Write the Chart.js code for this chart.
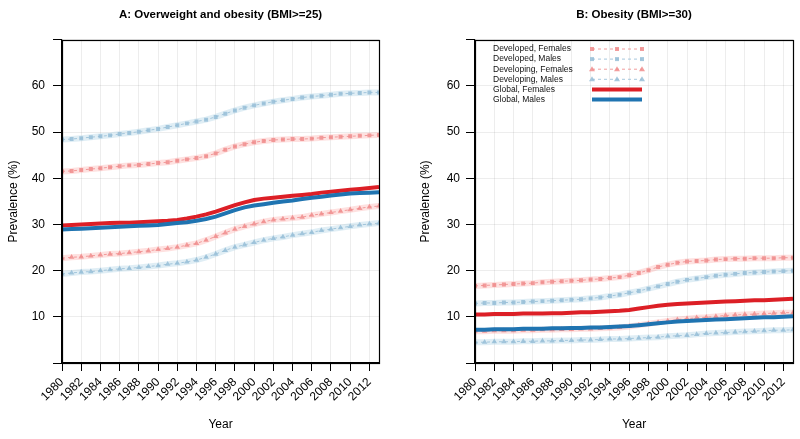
<!DOCTYPE html>
<html>
<head>
<meta charset="utf-8">
<script src="https://cdn.jsdelivr.net/npm/chart.js@4"></script>
<style>
  html, body { margin: 0; padding: 0; background: #fff; }
  #wrap { position: relative; width: 800px; height: 439px; }
  canvas { position: absolute; top: 0; }
  #chartA { left: 0; }
  #chartB { left: 400px; }
</style>
</head>
<body>
<div id="wrap">
  <canvas id="chartA" width="400" height="439"></canvas>
  <canvas id="chartB" width="400" height="439"></canvas>
</div>
<script>
const years = [
  1980, 1981, 1982, 1983, 1984, 1985, 1986, 1987, 1988, 1989,
  1990, 1991, 1992, 1993, 1994, 1995, 1996, 1997, 1998, 1999,
  2000, 2001, 2002, 2003, 2004, 2005, 2006, 2007, 2008, 2009,
  2010, 2011, 2012, 2013
];

// Panel A: overweight and obesity (BMI>=25), %
const overweightDevelopedFemales = [
  41.5, 41.6, 41.8, 42.0, 42.2, 42.4, 42.6, 42.8, 42.9, 43.1,
  43.3, 43.5, 43.8, 44.1, 44.4, 44.8, 45.4, 46.2, 46.9, 47.4,
  47.8, 48.1, 48.3, 48.4, 48.5, 48.5, 48.6, 48.8, 48.9, 49.0,
  49.1, 49.2, 49.3, 49.4
];
const overweightDevelopedMales = [
  48.4, 48.5, 48.7, 48.9, 49.1, 49.3, 49.6, 49.8, 50.1, 50.4,
  50.7, 51.1, 51.5, 51.9, 52.3, 52.7, 53.3, 54.0, 54.7, 55.3,
  55.8, 56.2, 56.6, 56.9, 57.2, 57.5, 57.7, 57.9, 58.1, 58.3,
  58.4, 58.5, 58.6, 58.6
];
const overweightDevelopingFemales = [
  22.7, 22.9, 23.0, 23.2, 23.4, 23.6, 23.7, 23.9, 24.1, 24.3,
  24.6, 24.8, 25.1, 25.5, 25.9, 26.6, 27.4, 28.2, 29.0, 29.6,
  30.1, 30.6, 31.0, 31.2, 31.4, 31.6, 32.0, 32.3, 32.6, 32.9,
  33.2, 33.5, 33.8, 34.0
];
const overweightDevelopingMales = [
  19.3, 19.5, 19.7, 19.8, 20.0, 20.2, 20.4, 20.5, 20.7, 20.9,
  21.1, 21.4, 21.6, 21.9, 22.3, 22.9, 23.6, 24.4, 25.1, 25.6,
  26.1, 26.6, 27.0, 27.3, 27.7, 28.0, 28.3, 28.7, 29.0, 29.3,
  29.6, 29.9, 30.1, 30.3
];
const overweightGlobalFemales = [
  29.8, 29.9, 30.0, 30.1, 30.2, 30.3, 30.4, 30.4, 30.5, 30.6,
  30.7, 30.8, 31.0, 31.3, 31.7, 32.2, 32.8, 33.5, 34.2, 34.8,
  35.3, 35.6, 35.8, 36.0, 36.2, 36.4, 36.6, 36.9, 37.1, 37.3,
  37.5, 37.7, 37.9, 38.1
];
const overweightGlobalMales = [
  28.9, 29.0, 29.1, 29.2, 29.3, 29.4, 29.5, 29.6, 29.7, 29.8,
  29.9, 30.1, 30.3, 30.5, 30.8, 31.2, 31.7, 32.4, 33.1, 33.7,
  34.1, 34.4, 34.7, 35.0, 35.2, 35.5, 35.8, 36.0, 36.3, 36.5,
  36.7, 36.8, 36.9, 37.0
];

// Panel B: obesity (BMI>=30), %
const obesityDevelopedFemales = [
  16.7, 16.8, 16.9, 17.0, 17.1, 17.2, 17.3, 17.5, 17.6, 17.7,
  17.8, 17.9, 18.1, 18.2, 18.4, 18.6, 19.0, 19.5, 20.1, 20.8,
  21.3, 21.7, 22.0, 22.1, 22.2, 22.4, 22.5, 22.6, 22.6, 22.7,
  22.7, 22.7, 22.8, 22.8
];
const obesityDevelopedMales = [
  12.9, 13.0, 13.0, 13.1, 13.1, 13.2, 13.3, 13.4, 13.5, 13.6,
  13.7, 13.8, 14.0, 14.2, 14.5, 14.8, 15.2, 15.6, 16.1, 16.6,
  17.1, 17.6, 18.0, 18.3, 18.6, 18.9, 19.1, 19.3, 19.5, 19.6,
  19.7, 19.8, 19.9, 20.0
];
const obesityDevelopingFemales = [
  6.9, 6.9, 7.0, 7.0, 7.0, 7.1, 7.1, 7.2, 7.2, 7.3,
  7.3, 7.4, 7.4, 7.5, 7.6, 7.7, 7.9, 8.2, 8.5, 8.8,
  9.1, 9.4, 9.6, 9.8, 9.9, 10.1, 10.3, 10.4, 10.5, 10.6,
  10.7, 10.8, 10.9, 10.9
];
const obesityDevelopingMales = [
  4.5, 4.5, 4.6, 4.6, 4.6, 4.7, 4.7, 4.8, 4.8, 4.9,
  4.9, 5.0, 5.0, 5.1, 5.2, 5.2, 5.3, 5.4, 5.5, 5.6,
  5.8, 5.9, 6.0, 6.2, 6.4, 6.5, 6.6, 6.7, 6.8, 6.9,
  7.0, 7.1, 7.1, 7.2
];
const obesityGlobalFemales = [
  10.5, 10.5, 10.6, 10.6, 10.6, 10.7, 10.7, 10.7, 10.8, 10.8,
  10.9, 11.0, 11.0, 11.1, 11.2, 11.3, 11.5, 11.8, 12.1, 12.4,
  12.6, 12.8, 12.9, 13.0, 13.1, 13.2, 13.3, 13.4, 13.5, 13.6,
  13.6, 13.7, 13.8, 13.9
];
const obesityGlobalMales = [
  7.2, 7.2, 7.3, 7.3, 7.3, 7.4, 7.4, 7.4, 7.5, 7.5,
  7.6, 7.6, 7.7, 7.7, 7.8, 7.9, 8.0, 8.2, 8.4, 8.6,
  8.8, 9.0, 9.1, 9.2, 9.3, 9.4, 9.5, 9.6, 9.7, 9.8,
  9.9, 9.9, 10.0, 10.1
];

const yTicks = [0, 10, 20, 30, 40, 50, 60, 70];

// colours
const RED = '#dc1f26';
const BLUE = '#1f74b1';
const RED_MARK = 'rgba(240, 140, 140, 0.85)';
const BLUE_MARK = 'rgba(150, 190, 215, 0.85)';
const RED_BAND = 'rgba(251, 154, 153, 0.3)';
const BLUE_BAND = 'rgba(166, 206, 227, 0.35)';

Chart.defaults.font.family = '"Liberation Sans", Arial, sans-serif';
Chart.defaults.font.size = 12;
Chart.defaults.color = '#000';

function toPoints(vals) {
  return years.map((yr, i) => ({ x: yr, y: vals[i] }));
}

function globalSeries(label, vals, color) {
  return [{
    label, data: toPoints(vals),
    borderColor: color, borderWidth: 4, pointRadius: 0, tension: 0
  }];
}

function lightSeries(label, vals, band, mark, shape) {
  const pts = toPoints(vals);
  return [
    {
      label, data: pts,
      borderColor: mark, borderWidth: 1, borderDash: [3, 3],
      pointStyle: shape, pointRadius: shape === 'triangle' ? 3.2 : 2.8,
      pointBackgroundColor: mark, pointBorderWidth: 0, pointHoverRadius: 0
    },
    {
      label: label + ' (band)', data: pts,
      borderColor: band, borderWidth: 6, pointRadius: 0
    }
  ];
}

// box round the plot area
const frame = {
  id: 'frame',
  afterDraw(chart) {
    const { ctx, chartArea: a } = chart;
    ctx.save();
    ctx.strokeStyle = '#000';
    ctx.lineWidth = 1.2;
    ctx.strokeRect(Math.round(a.left) + 0.5, Math.round(a.top) + 0.5,
      Math.round(a.right - a.left), Math.round(a.bottom - a.top));
    ctx.restore();
  }
};

const legendRows = [
  { text: 'Developed, Females', color: RED_MARK, shape: 'rect' },
  { text: 'Developed, Males', color: BLUE_MARK, shape: 'rect' },
  { text: 'Developing, Females', color: RED_MARK, shape: 'triangle' },
  { text: 'Developing, Males', color: BLUE_MARK, shape: 'triangle' },
  { text: 'Global, Females', color: RED, shape: null },
  { text: 'Global, Males', color: BLUE, shape: null }
];

function mark(ctx, shape, x, y) {
  ctx.beginPath();
  if (shape === 'rect') {
    ctx.rect(x - 2, y - 2, 4, 4);
  } else {
    ctx.moveTo(x, y - 3);
    ctx.lineTo(x + 3, y + 2);
    ctx.lineTo(x - 3, y + 2);
    ctx.closePath();
  }
  ctx.fill();
}

const insideLegend = {
  id: 'insideLegend',
  afterDraw(chart) {
    const ctx = chart.ctx;
    ctx.save();
    ctx.font = '8.5px "Liberation Sans", Arial, sans-serif';
    ctx.textBaseline = 'middle';
    ctx.textAlign = 'left';
    legendRows.forEach((r, i) => {
      const y = 49 + i * 10.1;
      ctx.fillStyle = '#111';
      ctx.fillText(r.text, 93, y);
      const x0 = 192, x1 = 242;
      ctx.strokeStyle = r.color;
      ctx.fillStyle = r.color;
      if (r.shape) {
        ctx.lineWidth = 1;
        ctx.setLineDash([3, 3]);
        ctx.beginPath(); ctx.moveTo(x0, y); ctx.lineTo(x1, y); ctx.stroke();
        ctx.setLineDash([]);
        [x0, (x0 + x1) / 2, x1].forEach(x => mark(ctx, r.shape, x, y));
      } else {
        ctx.lineWidth = 4;
        ctx.beginPath(); ctx.moveTo(x0, y); ctx.lineTo(x1, y); ctx.stroke();
      }
    });
    ctx.restore();
  }
};

function makeChart(id, title, series, cfg) {
  const datasets = [].concat(
    globalSeries('Global, Males', series.gm, BLUE),
    globalSeries('Global, Females', series.gf, RED),
    lightSeries('Developing, Males', series.dvm, BLUE_BAND, BLUE_MARK, 'triangle'),
    lightSeries('Developing, Females', series.dvf, RED_BAND, RED_MARK, 'triangle'),
    lightSeries('Developed, Males', series.dm, BLUE_BAND, BLUE_MARK, 'rect'),
    lightSeries('Developed, Females', series.df, RED_BAND, RED_MARK, 'rect')
  );
  return new Chart(document.getElementById(id), {
    type: 'line',
    data: { datasets },
    plugins: cfg.legend ? [frame, insideLegend] : [frame],
    options: {
      responsive: false,
      animation: false,
      events: [],
      layout: { padding: { left: 0, right: cfg.padRight, top: 0, bottom: 0 } },
      plugins: {
        legend: { display: false },
        tooltip: { enabled: false },
        title: {
          display: true, text: title, fullSize: false,
          font: { size: 11.5, weight: 'bold' },
          padding: { top: 8, bottom: 18 }
        }
      },
      scales: {
        x: {
          type: 'linear', min: 1980, max: 2013,
          ticks: {
            stepSize: 2, includeBounds: false, autoSkip: false,
            minRotation: 45, maxRotation: 45, padding: 4,
            callback: v => String(v)
          },
          grid: { color: 'rgba(0,0,0,0.07)', tickColor: '#000', tickLength: 8 },
          border: { color: '#000', width: 1.2 },
          title: { display: true, text: 'Year', padding: { top: 0, bottom: 7 } },
          afterFit(s) { s.height = 76; }
        },
        y: {
          min: 0, max: 70,
          afterBuildTicks(s) { s.ticks = yTicks.map(v => ({ value: v })); },
          ticks: {
            padding: cfg.tickPad,
            callback: v => (v === 0 || v === 70) ? '' : String(v)
          },
          grid: { color: 'rgba(0,0,0,0.07)', tickColor: '#000', tickLength: 9 },
          border: { color: '#000', width: 1.2 },
          title: { display: true, text: 'Prevalence (%)', padding: { top: cfg.titlePad, bottom: 0 } },
          afterFit(s) { s.width = cfg.yWidth; }
        }
      }
    }
  });
}

makeChart('chartA', 'A: Overweight and obesity (BMI>=25)', {
  df: overweightDevelopedFemales, dm: overweightDevelopedMales,
  dvf: overweightDevelopingFemales, dvm: overweightDevelopingMales,
  gf: overweightGlobalFemales, gm: overweightGlobalMales
}, { yWidth: 62, padRight: 21, tickPad: 8, titlePad: 6, legend: false });

makeChart('chartB', 'B: Obesity (BMI>=30)', {
  df: obesityDevelopedFemales, dm: obesityDevelopedMales,
  dvf: obesityDevelopingFemales, dvm: obesityDevelopingMales,
  gf: obesityGlobalFemales, gm: obesityGlobalMales
}, { yWidth: 75, padRight: 7, tickPad: 6, titlePad: 18, legend: true });
</script>
</body>
</html>
